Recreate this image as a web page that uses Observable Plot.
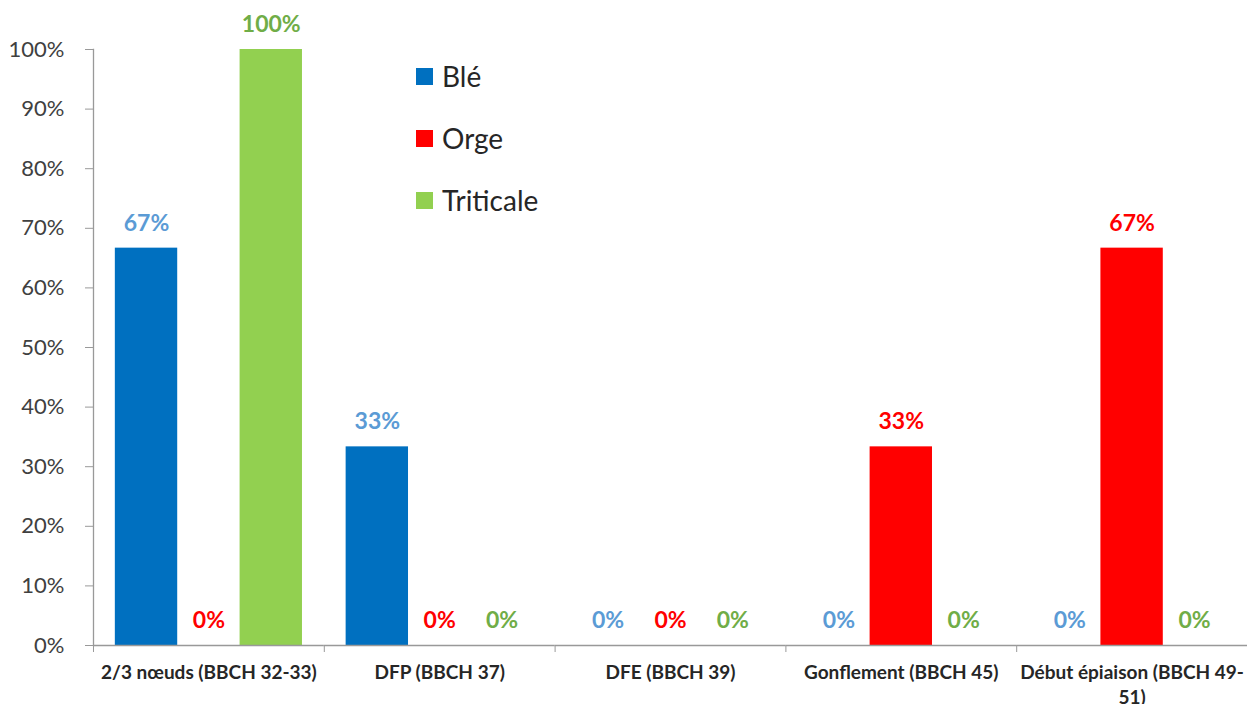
<!DOCTYPE html>
<html><head><meta charset="utf-8">
<script src="https://cdn.jsdelivr.net/npm/d3@7"></script>
<script src="https://cdn.jsdelivr.net/npm/@observablehq/plot@0.6"></script>
<style>
body{margin:0;background:#fff}
#wrap{position:relative;width:1247px;height:704px;overflow:hidden}
#legend{position:absolute;left:416px;top:45px;font-family:Lato,"Open Sans",sans-serif;font-size:28px;color:#262626}
.item{display:flex;align-items:center;height:62px}
.sw{width:17px;height:17px;margin-right:9px}
</style>
</head><body>
<div id="wrap"><div id="chart"></div><div id="legend"></div></div>
<script>
const categories = ["2/3 nœuds (BBCH 32-33)", "DFP (BBCH 37)", "DFE (BBCH 39)", "Gonflement (BBCH 45)", "Début épiaison (BBCH 49-51)"];
const series = ["Blé", "Orge", "Triticale"];
const ble = [66.67, 33.33, 0, 0, 0];
const orge = [0, 0, 0, 33.33, 66.67];
const triticale = [100, 0, 0, 0, 0];
const yTicks = [0, 10, 20, 30, 40, 50, 60, 70, 80, 90, 100];
const barColors = ["#0070C0", "#FF0000", "#92D050"];
const labelColors = ["#5B9BD5", "#FF0000", "#70AD47"];

const values = [ble, orge, triticale];
const data = categories.flatMap((c, i) => series.map((s, j) => ({category: c, series: s, value: values[j][i]})));

const font = "Lato, 'Open Sans', sans-serif";
const axisColor = "#999";

const chart = Plot.plot({
  width: 1247, height: 704,
  marginLeft: 93, marginRight: 0, marginTop: 49, marginBottom: 59,
  style: {fontFamily: font, background: "#fff"},
  fx: {domain: categories, padding: 0, round: false, label: null},
  x: {domain: series, paddingInner: 0, paddingOuter: 0.35, round: false, axis: null},
  y: {domain: [0, 100], label: null},
  color: {domain: series, range: barColors},
  marks: [
    Plot.barY(data, {fx: "category", x: "series", y: "value", fill: "series"}),
    Plot.text(data, {fx: "category", x: "series", y: "value", text: d => Math.round(d.value) + "%",
      dy: -25, fill: d => labelColors[series.indexOf(d.series)], fontWeight: "bold", fontSize: 23}),
    Plot.ruleY([0], {stroke: axisColor, strokeWidth: 1.3}),
    Plot.frame({anchor: "left", facetAnchor: "left", stroke: axisColor, strokeWidth: 1.3}),
    Plot.axisY({ticks: yTicks, tickFormat: d => d + "%", tickSize: 8, tickPadding: 21, fontSize: 22,
      stroke: axisColor, color: "#404040", label: null}),
    Plot.axisFx({anchor: "bottom", tickSize: 0, tickPadding: 16, fontSize: 19, fontWeight: "bold",
      color: "#262626", lineHeight: 1.3, label: null,
      tickFormat: d => d.replace("49-51", "49-\n51")}),
    Plot.axisFx({anchor: "bottom", tickSize: 7, tickFormat: () => "", stroke: axisColor, dx: -115.4, label: null})
  ]
});
document.getElementById("chart").appendChild(chart);

const legend = document.getElementById("legend");
series.forEach((s, i) => {
  const row = document.createElement("div");
  row.className = "item";
  row.innerHTML = `<span class="sw" style="background:${barColors[i]}"></span><span>${s}</span>`;
  legend.appendChild(row);
});
</script>
</body></html>
